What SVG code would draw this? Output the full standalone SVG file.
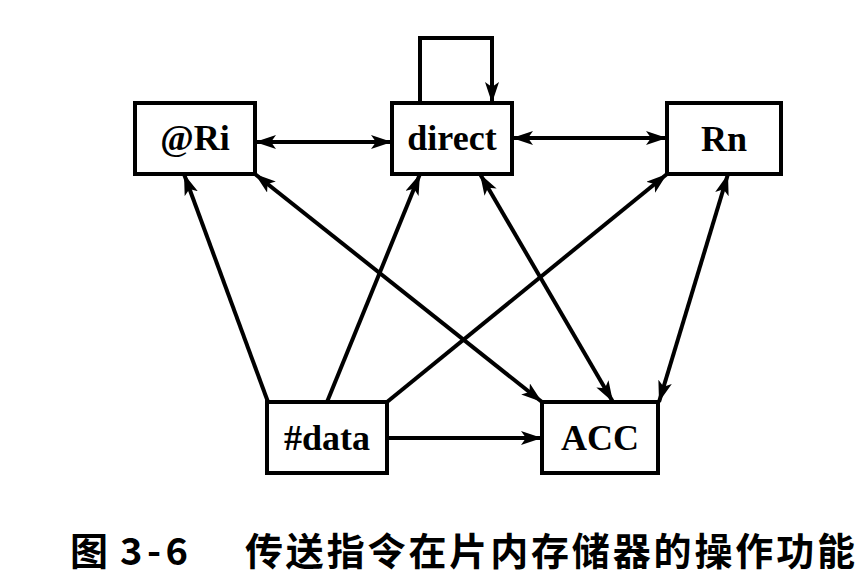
<svg xmlns="http://www.w3.org/2000/svg" width="862" height="576" viewBox="0 0 862 576">
<defs>
<marker id="ah" markerUnits="userSpaceOnUse" markerWidth="24" markerHeight="16" refX="21" refY="7" orient="auto-start-reverse">
<path d="M0,0 L21,7 L0,14 L5,7 Z" fill="#000"/>
</marker>
<style>
.box{fill:#fff;stroke:#000;stroke-width:4}
.lbl{font-family:"Liberation Serif","Times New Roman",serif;font-weight:bold;font-size:36px;text-anchor:middle;fill:#000}
.c{fill:none;stroke:#000;stroke-width:4}
.cap{font-family:"Noto Sans CJK SC","Liberation Sans",sans-serif;font-weight:bold;font-size:38px;fill:#000}
</style>
</defs>
<rect width="862" height="576" fill="#fff"/>
<g id="connectors">
<path class="c" d="M420,103 V38 H492 V103" marker-end="url(#ah)"/>
<line class="c" x1="255" y1="142" x2="392" y2="142" marker-start="url(#ah)" marker-end="url(#ah)"/>
<line class="c" x1="512" y1="138" x2="667" y2="138" marker-start="url(#ah)" marker-end="url(#ah)"/>
<line class="c" x1="387" y1="438" x2="542" y2="438" marker-end="url(#ah)"/>
<line class="c" x1="268" y1="402" x2="184" y2="174" marker-end="url(#ah)"/>
<line class="c" x1="327" y1="402" x2="420" y2="174" marker-end="url(#ah)"/>
<line class="c" x1="387" y1="402" x2="667" y2="174" marker-end="url(#ah)"/>
<line class="c" x1="255" y1="174" x2="542" y2="402" marker-start="url(#ah)" marker-end="url(#ah)"/>
<line class="c" x1="480" y1="174" x2="613" y2="402" marker-start="url(#ah)" marker-end="url(#ah)"/>
<line class="c" x1="728" y1="174" x2="659" y2="402" marker-start="url(#ah)" marker-end="url(#ah)"/>
</g>
<g id="n-ri"><rect class="box" x="135" y="103" width="120" height="71"/><text class="lbl" x="195" y="150">@Ri</text></g>
<g id="n-direct"><rect class="box" x="392" y="103" width="120" height="71"/><text class="lbl" x="452" y="150">direct</text></g>
<g id="n-rn"><rect class="box" x="667" y="103" width="114" height="71"/><text class="lbl" x="724" y="151">Rn</text></g>
<g id="n-data"><rect class="box" x="267" y="402" width="120" height="71"/><text class="lbl" x="327" y="450">#data</text></g>
<g id="n-acc"><rect class="box" x="542" y="402" width="116" height="71"/><text class="lbl" x="600" y="450">ACC</text></g>
<g id="caption">
<text class="cap" x="70" y="565">图</text>
<text class="cap" x="120" y="565" textLength="68" lengthAdjust="spacing">3-6</text>
<text class="cap" x="245" y="565" textLength="610" lengthAdjust="spacing">传送指令在片内存储器的操作功能</text>
</g>
</svg>
